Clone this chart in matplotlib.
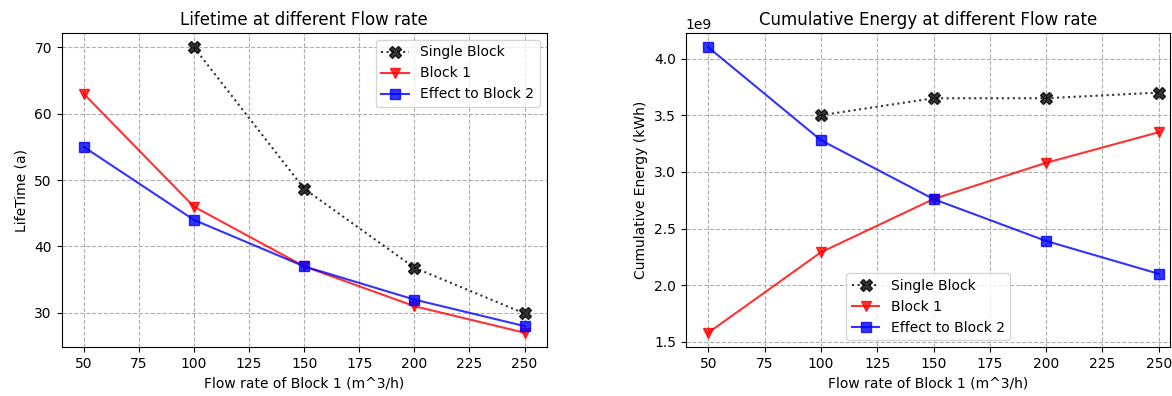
import numpy as np
import matplotlib
matplotlib.use("Agg")
from matplotlib import pyplot as plt

# flow rate of block 1 (m^3/h)
flow_rate = [50, 100, 150, 200, 250]

# lifetime (a)
life_single = [np.nan, 70, 48.7, 36.8, 29.9]
life_block1 = [63, 46, 37, 31, 27]
life_block2 = [55, 44, 37, 32, 28]

# cumulative energy (kWh)
energy_single = [np.nan, 3.50e9, 3.65e9, 3.65e9, 3.70e9]
energy_block1 = [1.58e9, 2.29e9, 2.76e9, 3.08e9, 3.35e9]
energy_block2 = [4.10e9, 3.28e9, 2.76e9, 2.39e9, 2.10e9]

labels = ["Single Block", "Block 1", "Effect to Block 2"]


def draw(ax, single, block1, block2):
    ax.plot(flow_rate, single, "k:", marker="X", markersize=9, linewidth=1.5, alpha=0.8, label=labels[0])
    ax.plot(flow_rate, block1, "r-", marker="v", markersize=7, linewidth=1.5, alpha=0.8, label=labels[1])
    ax.plot(flow_rate, block2, "b-", marker="s", markersize=7, linewidth=1.5, alpha=0.8, label=labels[2])
    ax.grid(True, linestyle="--", color="#b0b0b0", linewidth=0.8)
    ax.set_xticks([50, 75, 100, 125, 150, 175, 200, 225, 250])
    ax.set_xlabel("Flow rate of Block 1 (m^3/h)")


fig = plt.figure(figsize=(11.72, 3.96), dpi=100)
ax1 = fig.add_axes([0.0526, 0.1237, 0.4138, 0.793])
ax2 = fig.add_axes([0.5851, 0.1237, 0.4136, 0.793])

draw(ax1, life_single, life_block1, life_block2)
ax1.set_title("Lifetime at different Flow rate")
ax1.set_ylabel("LifeTime (a)")
ax1.legend(loc="upper right")

draw(ax2, energy_single, energy_block1, energy_block2)
ax2.set_xlim(40, 255.2)
ax2.set_title("Cumulative Energy at different Flow rate")
ax2.set_ylabel("Cumulative Energy (kWh)")
ax2.legend(loc="lower center")

fig.savefig("out.png", dpi=100)
